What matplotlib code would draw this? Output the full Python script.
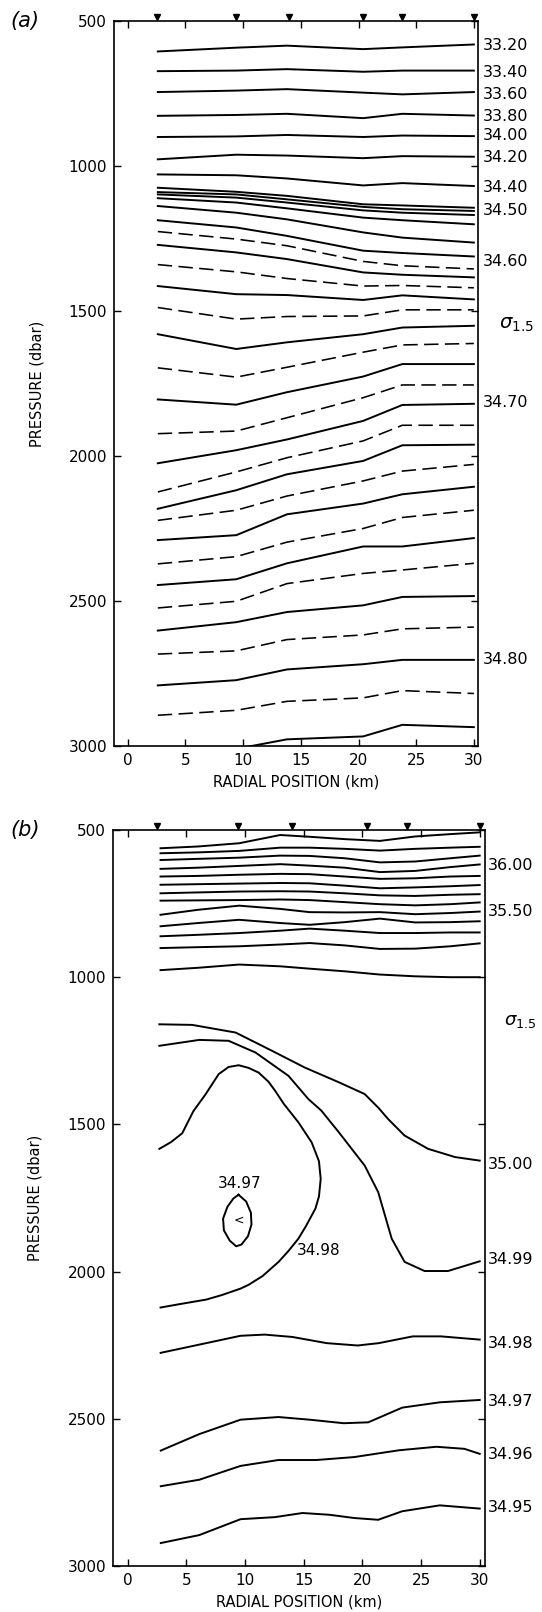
import matplotlib
matplotlib.use("Agg")
import matplotlib.pyplot as plt
from matplotlib import transforms

# ---------------- panel (a) ----------------
stations = [2.5, 9.4, 14.0, 20.4, 23.8, 30.0]
a_x = [2.6, 9.4, 13.8, 20.4, 23.8, 30.0]

a_levels = [33.20, 33.40, 33.60, 33.80, 34.00, 34.20, 34.40,
            34.45, 34.50, 34.52, 34.54, 34.56, 34.60,
            34.61, 34.62, 34.63, 34.64, 34.65, 34.66, 34.67, 34.68, 34.69, 34.70,
            34.71, 34.72, 34.73, 34.74, 34.75, 34.76, 34.77, 34.78, 34.79, 34.80,
            34.81, 34.82]

a_p = [
    [605, 592, 585, 597, 591, 581],
    [673, 671, 666, 675, 671, 671],
    [745, 740, 735, 747, 753, 745],
    [827, 824, 820, 835, 820, 826],
    [900, 898, 893, 900, 895, 897],
    [977, 961, 964, 973, 966, 968],
    [1029, 1032, 1043, 1067, 1059, 1069],
    [1075, 1089, 1103, 1132, 1136, 1144],
    [1090, 1098, 1115, 1141, 1149, 1155],
    [1098, 1109, 1126, 1153, 1161, 1169],
    [1111, 1126, 1146, 1178, 1187, 1201],
    [1138, 1161, 1184, 1229, 1247, 1264],
    [1187, 1212, 1241, 1292, 1300, 1312],
    [1226, 1252, 1275, 1329, 1344, 1355],
    [1272, 1298, 1321, 1367, 1375, 1384],
    [1340, 1365, 1388, 1414, 1412, 1420],
    [1414, 1442, 1445, 1462, 1446, 1460],
    [1488, 1528, 1519, 1517, 1496, 1496],
    [1580, 1631, 1608, 1580, 1557, 1551],
    [1696, 1728, 1694, 1642, 1617, 1612],
    [1805, 1823, 1780, 1726, 1683, 1683],
    [1923, 1914, 1868, 1799, 1755, 1755],
    [2025, 1980, 1943, 1879, 1824, 1820],
    [2124, 2055, 2006, 1948, 1894, 1894],
    [2182, 2118, 2063, 2017, 1963, 1961],
    [2222, 2187, 2138, 2086, 2052, 2029],
    [2290, 2273, 2201, 2164, 2132, 2106],
    [2372, 2347, 2297, 2250, 2212, 2187],
    [2445, 2425, 2370, 2312, 2312, 2283],
    [2524, 2501, 2440, 2405, 2393, 2370],
    [2602, 2573, 2538, 2515, 2486, 2483],
    [2683, 2672, 2633, 2617, 2596, 2590],
    [2791, 2773, 2736, 2718, 2703, 2703],
    [2894, 2877, 2846, 2834, 2809, 2819],
    [3050, 3010, 2977, 2967, 2927, 2935],
]

a_labels = ["33.20", "33.40", "33.60", "33.80", "34.00", "34.20",
            "34.40", "34.50", "34.60", "34.70", "34.80"]
a_label_p = [585, 679, 753, 828, 896, 971, 1075, 1155, 1329, 1815, 2703]

# ---------------- panel (b) ----------------
b_x_top = [2.8, 6.0, 9.5, 13.0, 15.5, 18.5, 21.5, 24.5, 27.5, 30.0]
b_p_top = [
    [562, 556, 545, 517, 523, 531, 537, 522, 514, 508],
    [579, 576, 571, 560, 560, 564, 570, 564, 560, 557],
    [602, 598, 594, 587, 588, 596, 610, 607, 596, 587],
    [632, 628, 622, 616, 621, 628, 643, 639, 626, 617],
    [658, 656, 652, 649, 650, 658, 666, 664, 658, 656],
    [686, 684, 682, 680, 681, 689, 698, 695, 691, 687],
    [715, 712, 709, 708, 709, 715, 722, 724, 720, 718],
    [740, 739, 738, 736, 738, 745, 752, 756, 752, 746],
    [788, 771, 757, 768, 779, 780, 779, 786, 782, 777],
    [827, 816, 805, 816, 822, 813, 801, 814, 813, 810],
    [861, 856, 850, 842, 835, 842, 850, 850, 848, 848],
    [901, 898, 895, 889, 884, 892, 904, 903, 895, 885],
    [976, 968, 957, 963, 971, 980, 991, 997, 1000, 1000],
]

c3500_x = [2.7, 5.5, 9.2, 12.3, 15.1, 18.0, 20.2, 21.4, 22.2, 23.6, 25.6, 27.9, 30.0]
c3500_p = [1160, 1162, 1188, 1250, 1307, 1357, 1397, 1445, 1482, 1538, 1583, 1611, 1623]

c3499_x = [2.7, 6.1, 8.6, 10.9, 13.7, 15.4, 16.5, 18.0, 20.2, 21.35, 22.5, 23.6, 25.3, 27.3, 30.0]
c3499_p = [1233, 1213, 1216, 1256, 1335, 1414, 1453, 1527, 1640, 1730, 1888, 1967, 1998, 1998, 1965]

c3498_x = [2.7, 3.7, 4.65, 5.6, 6.6, 7.76, 8.6, 9.46, 10.3, 11.16, 12.0, 12.57, 13.3, 14.55,
           15.68, 16.3, 16.45, 16.3, 16.0, 15.2, 14.55, 13.7, 12.86, 11.5, 10.3, 9.6,
           8.0, 6.7, 4.5, 2.8]
c3498_p = [1583, 1560, 1530, 1455, 1400, 1329, 1305, 1299, 1308, 1324, 1355, 1386, 1430, 1493,
           1561, 1625, 1685, 1745, 1786, 1845, 1888, 1930, 1967, 2015, 2045, 2058,
           2080, 2095, 2110, 2122]

c3497_x = [9.45, 10.1, 10.5, 10.55, 10.25, 9.7, 9.25, 8.7, 8.2, 8.13, 8.5, 9.0, 9.45]
c3497_p = [1739, 1762, 1800, 1840, 1880, 1908, 1914, 1895, 1860, 1820, 1780, 1752, 1739]

low_x = [
    [2.81, 6.69, 9.62, 11.68, 14.03, 16.96, 19.6, 21.4, 24.3, 26.7, 30.0],
    [2.82, 6.1, 9.62, 12.84, 15.5, 18.4, 20.5, 23.4, 26.6, 30.0],
    [2.82, 6.1, 9.62, 12.84, 16.07, 19.3, 23.1, 26.3, 28.7, 30.0],
    [2.82, 6.1, 9.62, 12.55, 14.9, 17.2, 19.3, 21.35, 23.4, 26.6, 30.0],
]
low_p = [
    [2276, 2243, 2218, 2214, 2222, 2243, 2251, 2243, 2220, 2220, 2231],
    [2608, 2552, 2503, 2494, 2503, 2515, 2512, 2462, 2444, 2436],
    [2729, 2707, 2660, 2640, 2640, 2630, 2607, 2595, 2602, 2619],
    [2922, 2895, 2841, 2834, 2820, 2826, 2837, 2843, 2814, 2794, 2805],
]

b_labels = ["36.00", "35.50", "35.00", "34.99", "34.98", "34.97", "34.96", "34.95"]
b_label_p = [620, 778, 1635, 1960, 2245, 2442, 2622, 2802]


def style_axes(ax, xlim):
    ax.set_xlim(xlim)
    ax.set_ylim(3000, 500)
    ax.set_xticks(range(0, 31, 5))
    ax.set_yticks(range(500, 3001, 500))
    ax.tick_params(direction='in', length=5, width=1, top=True, right=True,
                   labelsize=11, pad=5)
    for s in ax.spines.values():
        s.set_linewidth(1.2)
    ax.set_xlabel('RADIAL POSITION (km)', fontsize=10.5, labelpad=5)
    ax.set_ylabel('PRESSURE (dbar)', fontsize=10.5)
    ax.yaxis.set_label_coords(-0.19, 0.5)
    ax.plot(stations, [1.006] * len(stations), 'v', color='k', ms=5,
            transform=ax.get_xaxis_transform(), clip_on=False)


fig = plt.figure(figsize=(5.42, 16.12), dpi=100)

# panel a
ax1 = fig.add_axes([0.2103, 1 - 746 / 1612, 0.6725, 725 / 1612])
for lev, pp in zip(a_levels, a_p):
    dashed = lev > 34.605 and round(lev * 100) % 2 == 1
    if dashed:
        ax1.plot(a_x, pp, color='k', lw=1.15, ls=(0, (9, 4)))
    else:
        ax1.plot(a_x, pp, color='k', lw=1.4)
style_axes(ax1, (-1.2, 30.4))
tr1 = transforms.blended_transform_factory(ax1.transAxes, ax1.transData)
for lab, p in zip(a_labels, a_label_p):
    ax1.text(1.012, p, lab, transform=tr1, fontsize=11.5, va='center', ha='left')
ax1.text(1.055, 1546, r'$\sigma_{1.5}$', transform=tr1, fontsize=14, va='center', ha='left')
fig.text(0.02, 1 - 21 / 1612, '(a)', fontsize=15, style='italic', va='center', ha='left')

# panel b
ax2 = fig.add_axes([0.2085, 1 - 1566 / 1612, 0.6863, 736 / 1612])
for pp in b_p_top:
    ax2.plot(b_x_top, pp, color='k', lw=1.4)
ax2.plot(c3500_x, c3500_p, color='k', lw=1.4)
ax2.plot(c3499_x, c3499_p, color='k', lw=1.4)
ax2.plot(c3498_x, c3498_p, color='k', lw=1.4)
ax2.plot(c3497_x, c3497_p, color='k', lw=1.4)
for xx, pp in zip(low_x, low_p):
    ax2.plot(xx, pp, color='k', lw=1.4)
style_axes(ax2, (-1.25, 30.45))
tr2 = transforms.blended_transform_factory(ax2.transAxes, ax2.transData)
for lab, p in zip(b_labels, b_label_p):
    ax2.text(1.008, p, lab, transform=tr2, fontsize=11.5, va='center', ha='left')
ax2.text(1.052, 1150, r'$\sigma_{1.5}$', transform=tr2, fontsize=13, va='center', ha='left')
ax2.text(9.5, 1700, '34.97', fontsize=11, ha='center', va='center')
ax2.text(9.5, 1826, '<', fontsize=9, ha='center', va='center')
ax2.text(16.3, 1927, '34.98', fontsize=11, ha='center', va='center')
fig.text(0.02, 1 - 830 / 1612, '(b)', fontsize=15, style='italic', va='center', ha='left')

fig.savefig('out.png', dpi=100)
